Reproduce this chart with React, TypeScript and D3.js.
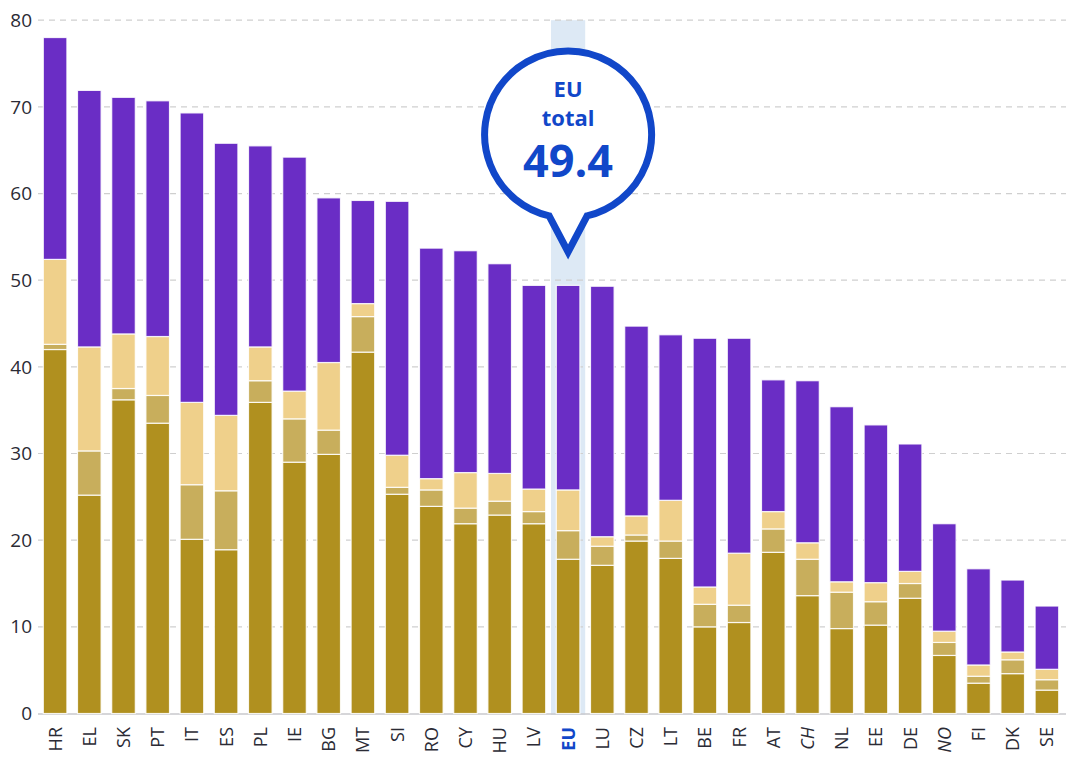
import React from "react";
import * as d3 from "d3";

const categories = ["HR","EL","SK","PT","IT","ES","PL","IE","BG","MT","SI","RO","CY","HU","LV","EU","LU","CZ","LT","BE","FR","AT","CH","NL","EE","DE","NO","FI","DK","SE"];
const seriesA = [42.0,25.2,36.2,33.5,20.1,18.9,35.9,29.0,29.9,41.7,25.3,23.9,21.9,22.9,21.9,17.8,17.1,19.9,17.9,10.0,10.5,18.6,13.6,9.8,10.2,13.3,6.7,3.5,4.6,2.7];
const seriesB = [0.6,5.1,1.3,3.2,6.3,6.8,2.5,5.0,2.8,4.1,0.8,1.9,1.8,1.6,1.4,3.3,2.2,0.7,2.0,2.6,2.0,2.7,4.2,4.2,2.7,1.7,1.5,0.8,1.6,1.2];
const seriesC = [9.8,12.0,6.3,6.8,9.5,8.7,3.9,3.2,7.8,1.5,3.7,1.3,4.1,3.2,2.6,4.7,1.1,2.2,4.7,2.0,6.0,2.0,1.9,1.2,2.2,1.4,1.3,1.3,0.9,1.2];
const seriesD = [25.6,29.6,27.3,27.2,33.4,31.4,23.2,27.0,19.0,11.9,29.3,26.6,25.6,24.2,23.5,23.6,28.9,21.9,19.1,28.7,24.8,15.2,18.7,20.2,18.2,14.7,12.4,11.1,8.3,7.3];
const yTicks = [0,10,20,30,40,50,60,70,80];
const italicCats = ["CH","NO"];
const highlightCat = "EU";
const calloutLines = ["EU", "total", "49.4"];

const colors = ["#B0901F", "#C8AE5C", "#EFD08B", "#6A2DC5"];
const FONT = "'Open Sans', 'Noto Sans', sans-serif";

export default function App() {
  const W = 1066, H = 757;
  const x = d3.scaleBand<string>().domain(categories).range([38, 1064]).paddingInner(0.31).paddingOuter(0.155);
  const y = d3.scaleLinear().domain([0, 80]).range([713.5, 20.2]);
  const rows = categories.map((c, i) => ({ c, a: seriesA[i], b: seriesB[i], c2: seriesC[i], d: seriesD[i] }));
  const stack = d3.stack<any>().keys(["a", "b", "c2", "d"])(rows);

  const hx = x(highlightCat)! + x.bandwidth() / 2;
  const step = x.step();
  const cx = hx, cy = 134.5, r = 83.5;
  const hw = 19;
  const by = cy + Math.sqrt(r * r - hw * hw);
  const tipY = 252;
  const bubble = `M${cx - hw},${by} A${r},${r} 0 1 1 ${cx + hw},${by} L${cx},${tipY} Z`;
  const blue = "#1147C9";

  return (
    <svg width={W} height={H} style={{ display: "block", position: "absolute", left: 0, top: 0 }} fontFamily={FONT}>
      <rect x={hx - step / 2} y={y(80)} width={step} height={715 - y(80)} fill="#DDE9F5" />
      {yTicks.map(t => (
        <g key={t}>
          {t > 0 && <line x1={38} x2={W} y1={y(t)} y2={y(t)} stroke="#CFCFCF" strokeWidth={1.2} strokeDasharray="6,5" />}
          <text x={32} y={y(t)} dy="0.35em" textAnchor="end" fontSize={19} fill="#2B2B35">{t}</text>
        </g>
      ))}
      <line x1={38} x2={W} y1={y(0)+0.5} y2={y(0)+0.5} stroke="#C8C8CC" strokeWidth={1.5} />
      {stack.map((layer, li) => (
        <g key={li} fill={colors[li]}>
          {layer.map((d, i) => (
            <rect key={i} x={x(categories[i])} y={y(d[1])} width={x.bandwidth()} height={Math.max(0, y(d[0]) - y(d[1]))}
              stroke="#FFFFFF" strokeOpacity={0.85} strokeWidth={1.2} />
          ))}
        </g>
      ))}
      {categories.map(c => {
        const isH = c === highlightCat;
        const px = x(c)! + x.bandwidth() / 2;
        return (
          <text key={c} transform={`translate(${px},${727}) rotate(-90)`} dy="0.36em" textAnchor="end"
            fontSize={18} fill={isH ? blue : "#2B2B35"} fontWeight={isH ? 700 : 400}
            fontStyle={italicCats.includes(c) ? "italic" : "normal"}>{c}</text>
        );
      })}
      <path d={bubble} fill="#FFFFFF" stroke={blue} strokeWidth={7} strokeLinejoin="miter" />
      <text x={cx} y={96.5} textAnchor="middle" fontSize={22} fontWeight={700} fill={blue}>{calloutLines[0]}</text>
      <text x={cx} y={126} textAnchor="middle" fontSize={22} fontWeight={700} fill={blue}>{calloutLines[1]}</text>
      <text x={cx} y={177} textAnchor="middle" fontSize={45} fontWeight={700} fill={blue}>{calloutLines[2]}</text>
    </svg>
  );
}
